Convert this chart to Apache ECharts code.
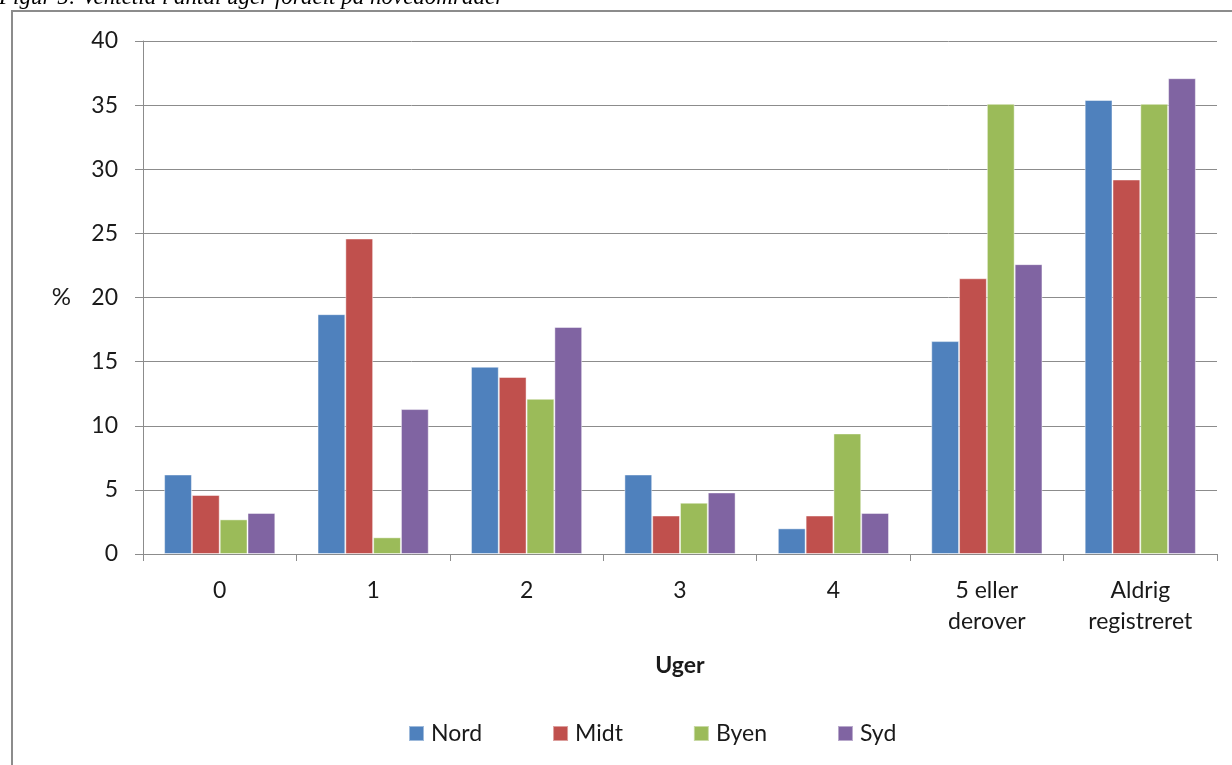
<!DOCTYPE html>
<html>
<head>
<meta charset="utf-8">
<script src="https://cdn.jsdelivr.net/npm/echarts@6/dist/echarts.min.js"></script>
<style>
html,body{margin:0;padding:0;background:#fff;}
#c{width:1232px;height:765px;}
</style>
</head>
<body>
<div id="c"></div>
<script>
const categories = ['0', '1', '2', '3', '4', '5 eller\nderover', 'Aldrig\nregistreret'];
const seriesNames = ['Nord', 'Midt', 'Byen', 'Syd'];
const nord = [6.2, 18.7, 14.6, 6.2, 2.0, 16.6, 35.4];
const midt = [4.6, 24.6, 13.8, 3.0, 3.0, 21.5, 29.2];
const byen = [2.7, 1.3, 12.1, 4.0, 9.4, 35.1, 35.1];
const syd = [3.2, 11.3, 17.7, 4.8, 3.2, 22.6, 37.1];
const colors = ['#4F81BD', '#C0504D', '#9BBB59', '#8064A2'];
const yTicks = [0, 5, 10, 15, 20, 25, 30, 35, 40];

const font = 'Lato, "Noto Sans", sans-serif';
const chart = echarts.init(document.getElementById('c'));
const dataSets = [nord, midt, byen, syd];

chart.setOption({
  animation: false,
  backgroundColor: '#fff',
  color: colors,
  graphic: [
    {
      type: 'rect',
      shape: {x: 12, y: 11, width: 1240, height: 780},
      style: {fill: 'none', stroke: '#8c8c8c', lineWidth: 2},
      z: 0
    },
    {
      type: 'text',
      left: -1,
      top: -14,
      style: {
        text: 'Figur 5: Ventetid i antal uger fordelt på hovedområder',
        font: 'italic 23px "Liberation Serif", "DejaVu Serif", serif',
        fill: '#000'
      }
    }
  ],
  grid: {left: 143, right: 15, top: 41, bottom: 211, containLabel: false},
  legend: {
    data: seriesNames,
    bottom: 15,
    left: 403,
    itemWidth: 15,
    itemHeight: 15,
    itemGap: 70,
    icon: 'rect',
    textStyle: {fontFamily: font, fontSize: 23, color: '#1a1a1a', padding: [0, 0, 0, 2]}
  },
  xAxis: {
    type: 'category',
    data: categories,
    name: 'Uger',
    nameLocation: 'middle',
    nameGap: 100,
    nameTextStyle: {fontFamily: font, fontSize: 23, fontWeight: 'bold', color: '#1a1a1a'},
    axisLine: {lineStyle: {color: '#8c8c8c', width: 1}},
    axisTick: {show: true, length: 7, lineStyle: {color: '#8c8c8c'}},
    axisLabel: {fontFamily: font, fontSize: 23, color: '#1a1a1a', margin: 21, lineHeight: 31, interval: 0}
  },
  yAxis: {
    type: 'value',
    min: 0,
    max: 40,
    interval: 5,
    name: '%',
    nameLocation: 'middle',
    nameRotate: 0,
    nameGap: 72,
    nameTextStyle: {fontFamily: font, fontSize: 24, color: '#1a1a1a'},
    axisLine: {show: true, lineStyle: {color: '#8c8c8c', width: 1}},
    axisTick: {show: true, length: 8, lineStyle: {color: '#8c8c8c'}},
    axisLabel: {fontFamily: font, fontSize: 23, color: '#1a1a1a', margin: 25,
      formatter: v => yTicks.includes(v) ? String(v) : ''},
    splitLine: {lineStyle: {color: '#8c8c8c', width: 1}}
  },
  series: seriesNames.map((n, i) => ({
    name: n,
    type: 'bar',
    data: dataSets[i],
    barWidth: 27.8,
    barGap: '0%',
    itemStyle: {color: colors[i], borderColor: 'rgba(255,255,255,0.45)', borderWidth: 1}
  }))
});
</script>
</body>
</html>
